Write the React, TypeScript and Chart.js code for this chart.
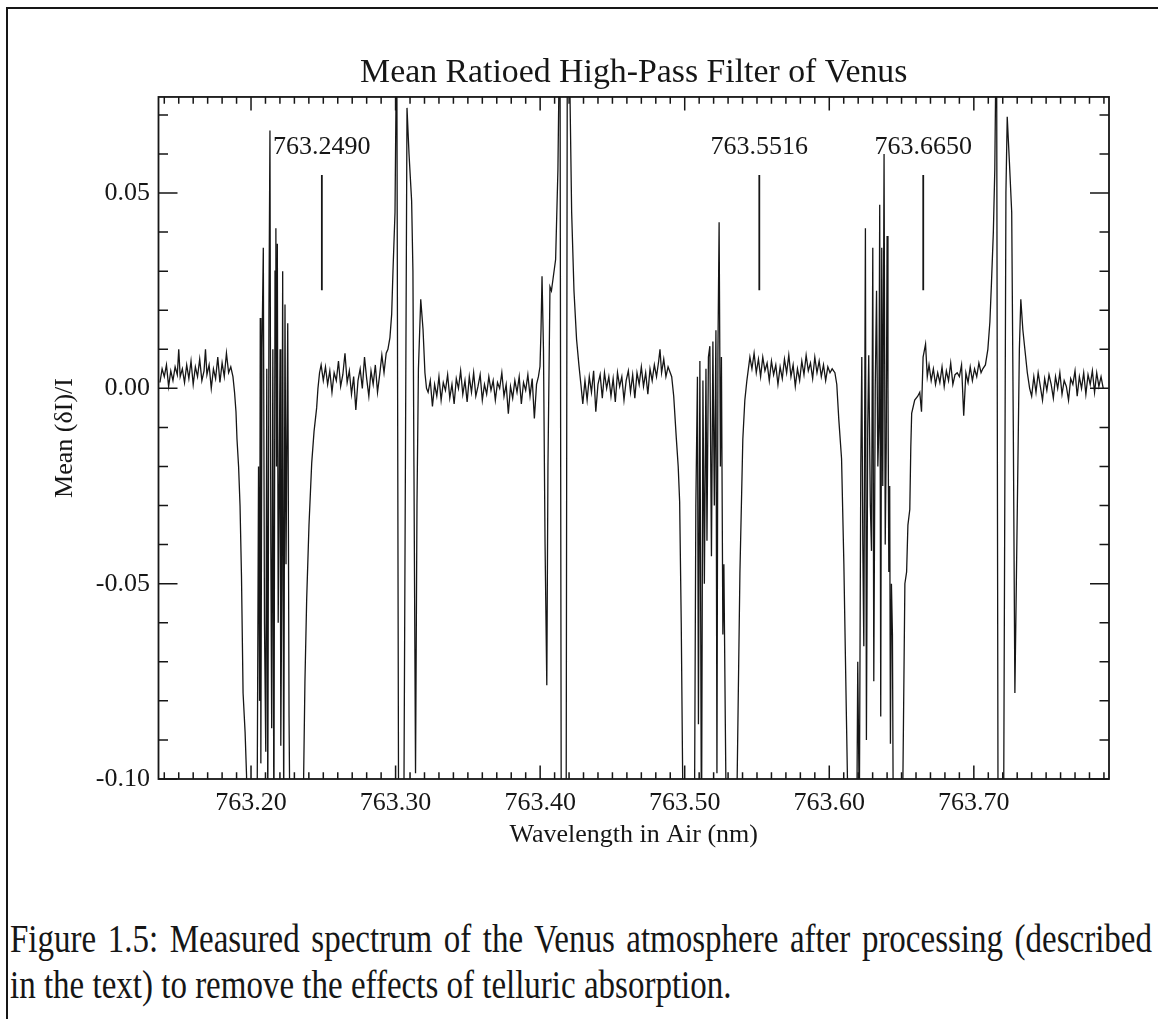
import React, { useEffect, useRef } from 'react';
import { Chart, registerables } from 'chart.js';

Chart.register(...registerables);

const INK = '#161616';
const SERIF = '"Liberation Serif", "Times New Roman", serif';

// axis ranges
const X_MIN = 763.136;
const X_MAX = 763.7935;
const Y_MIN = -0.1;
const Y_MAX = 0.0746;

// tick labels
const xTickValues = [763.2, 763.3, 763.4, 763.5, 763.6, 763.7];
const yTickValues = [-0.1, -0.05, 0.0, 0.05];

// marked line positions
const lineCenters = [763.249, 763.5516, 763.665];
const lineLabels = ['763.2490', '763.5516', '763.6650'];
const markerSpan = [0.0251, 0.0546];
const labelLevel = 0.0618;

// spectrum: [wavelength (nm), mean dI/I]
const continuumA: [number, number][] = [
  [763.1370, 0.0015], [763.1385, 0.0050], [763.1400, 0.0030], [763.1415, 0.0060], [763.1430, 0.0005],
  [763.1445, 0.0045], [763.1460, 0.0020], [763.1475, 0.0055], [763.1490, 0.0035], [763.1500, 0.0100],
  [763.1510, 0.0030], [763.1525, 0.0050], [763.1540, 0.0015], [763.1555, 0.0060], [763.1570, 0.0025],
  [763.1585, 0.0070], [763.1600, 0.0010], [763.1615, 0.0055], [763.1630, 0.0030], [763.1645, 0.0075],
  [763.1660, 0.0020], [763.1675, 0.0045], [763.1685, 0.0100], [763.1695, 0.0035], [763.1710, 0.0060],
  [763.1725, 0.0000], [763.1740, 0.0050], [763.1755, 0.0025], [763.1770, 0.0080], [763.1785, 0.0015],
  [763.1800, 0.0065], [763.1815, 0.0030], [763.1830, 0.0090], [763.1845, 0.0040], [763.1860, 0.0055],
  [763.1875, 0.0030],
];

const band1: [number, number][] = [
  [763.1886, -0.0010], [763.1896, -0.0060], [763.1903, -0.0130], [763.1914, -0.0200], [763.1924, -0.0300],
  [763.1934, -0.0480], [763.1945, -0.0780], [763.1959, -0.0880], [763.1969, -0.0990], [763.1979, -0.1300],
  [763.2014, -0.1400], [763.2041, -0.1200], [763.2052, -0.0200], [763.2059, -0.0800], [763.2064, 0.0180],
  [763.2068, -0.0960], [763.2076, 0.0100], [763.2085, 0.0360], [763.2093, -0.0600], [763.2102, -0.0930],
  [763.2109, 0.0050], [763.2116, -0.1100], [763.2124, 0.0200], [763.2131, 0.0660], [763.2137, -0.0400],
  [763.2143, -0.0870], [763.2151, 0.0100], [763.2158, -0.1200], [763.2166, 0.0300], [763.2172, 0.0410],
  [763.2176, -0.0200], [763.2182, 0.0370], [763.2188, -0.0600], [763.2194, -0.0300], [763.2201, 0.0100],
  [763.2206, -0.0915], [763.2213, -0.0500], [763.2219, 0.0300], [763.2226, -0.1100], [763.2235, 0.0215],
  [763.2242, -0.0450], [763.2254, 0.0167], [763.2263, -0.0840], [763.2273, -0.1300], [763.2311, -0.1500],
  [763.2360, -0.1100], [763.2373, -0.0750], [763.2385, -0.0540], [763.2401, -0.0350], [763.2420, -0.0190],
  [763.2436, -0.0110], [763.2454, -0.0050], [763.2463, 0.0000], [763.2474, 0.0040],
];

const continuumB: [number, number][] = [
  [763.2485, 0.0060], [763.2500, 0.0020], [763.2515, 0.0055], [763.2530, 0.0010], [763.2545, 0.0045],
  [763.2560, -0.0010], [763.2575, 0.0040], [763.2590, 0.0020], [763.2605, 0.0070], [763.2620, 0.0005],
  [763.2635, 0.0035], [763.2650, 0.0090], [763.2665, 0.0015], [763.2680, 0.0045], [763.2695, -0.0015],
  [763.2710, 0.0030], [763.2725, -0.0055], [763.2740, 0.0020], [763.2755, 0.0050], [763.2770, 0.0000],
  [763.2785, 0.0080], [763.2800, 0.0025], [763.2815, -0.0020], [763.2830, 0.0045], [763.2845, 0.0010],
  [763.2860, 0.0060], [763.2875, -0.0010], [763.2890, 0.0035], [763.2905, 0.0085], [763.2920, 0.0040],
  [763.2935, 0.0090],
];

const feature1: [number, number][] = [
  [763.2947, 0.0100], [763.2961, 0.0130], [763.2973, 0.0190], [763.2982, 0.0300], [763.2996, 0.0450],
  [763.3008, 0.0950], [763.3024, -0.1600], [763.3051, -0.1600], [763.3079, 0.0718], [763.3093, 0.0600],
  [763.3111, 0.0480], [763.3120, 0.0300], [763.3127, -0.0200], [763.3138, -0.0985], [763.3148, -0.0300],
  [763.3158, 0.0050], [763.3174, 0.0228], [763.3190, 0.0150], [763.3203, 0.0040], [763.3214, 0.0000],
];

const continuumC: [number, number][] = [
  [763.3225, -0.0010], [763.3240, 0.0020], [763.3255, -0.0046], [763.3270, 0.0010], [763.3285, -0.0020],
  [763.3300, 0.0030], [763.3315, -0.0030], [763.3330, 0.0015], [763.3345, -0.0005], [763.3360, 0.0035],
  [763.3375, -0.0025], [763.3390, 0.0010], [763.3405, -0.0040], [763.3420, 0.0025], [763.3435, 0.0000],
  [763.3450, 0.0045], [763.3465, -0.0015], [763.3480, 0.0020], [763.3495, -0.0035], [763.3510, 0.0030],
  [763.3525, -0.0010], [763.3540, 0.0040], [763.3555, -0.0020], [763.3570, 0.0005], [763.3585, 0.0035],
  [763.3600, -0.0030], [763.3615, 0.0010], [763.3630, -0.0015], [763.3645, 0.0030], [763.3660, -0.0005],
  [763.3675, 0.0020], [763.3690, -0.0030], [763.3705, 0.0015], [763.3720, 0.0000], [763.3735, 0.0040],
  [763.3750, -0.0020], [763.3765, 0.0010], [763.3780, -0.0065], [763.3795, 0.0005], [763.3810, -0.0025],
  [763.3825, 0.0020], [763.3840, -0.0010], [763.3855, 0.0030], [763.3870, -0.0040], [763.3885, 0.0015],
  [763.3900, -0.0005], [763.3915, 0.0035], [763.3930, -0.0020], [763.3945, 0.0025], [763.3960, -0.0077],
  [763.3975, 0.0010],
];

const feature2: [number, number][] = [
  [763.3988, 0.0030], [763.3999, 0.0056], [763.4006, 0.0150], [763.4013, 0.0287], [763.4023, 0.0100],
  [763.4034, -0.0400], [763.4046, -0.0760], [763.4054, -0.0200], [763.4068, 0.0260], [763.4078, 0.0250],
  [763.4089, 0.0280], [763.4107, 0.0330], [763.4123, 0.0560], [763.4137, 0.1000], [763.4148, -0.1600],
  [763.4178, -0.1600], [763.4189, 0.1200], [763.4218, 0.0450], [763.4234, 0.0250], [763.4252, 0.0125],
  [763.4268, 0.0060], [763.4282, 0.0010],
];

const continuumD: [number, number][] = [
  [763.4295, -0.0040], [763.4310, 0.0020], [763.4325, -0.0030], [763.4340, 0.0030], [763.4355, -0.0010],
  [763.4370, 0.0045], [763.4385, -0.0060], [763.4400, 0.0010], [763.4415, 0.0035], [763.4430, -0.0025],
  [763.4445, 0.0040], [763.4460, 0.0000], [763.4475, 0.0030], [763.4490, -0.0020], [763.4505, 0.0025],
  [763.4520, -0.0035], [763.4535, 0.0040], [763.4550, 0.0005], [763.4565, 0.0030], [763.4580, -0.0030],
  [763.4595, 0.0020], [763.4610, 0.0045], [763.4625, -0.0010], [763.4640, 0.0035], [763.4655, -0.0025],
  [763.4670, 0.0040], [763.4685, 0.0010], [763.4700, 0.0055], [763.4715, 0.0005], [763.4730, 0.0040],
  [763.4745, -0.0015], [763.4760, 0.0050], [763.4775, 0.0020], [763.4790, 0.0060], [763.4805, 0.0030],
  [763.4820, 0.0070], [763.4829, 0.0100], [763.4840, 0.0040], [763.4855, 0.0075], [763.4870, 0.0030],
  [763.4885, 0.0055], [763.4900, 0.0040],
];

const band2: [number, number][] = [
  [763.4910, 0.0030], [763.4924, -0.0020], [763.4942, -0.0128], [763.4955, -0.0200], [763.4965, -0.0290],
  [763.4976, -0.0600], [763.4986, -0.1000], [763.5000, -0.1400], [763.5064, -0.1400], [763.5077, -0.0300],
  [763.5088, 0.0030], [763.5095, -0.0860], [763.5105, 0.0070], [763.5116, -0.1200], [763.5126, 0.0020],
  [763.5136, -0.0500], [763.5147, 0.0050], [763.5154, -0.0390], [763.5164, 0.0080], [763.5174, 0.0108],
  [763.5185, -0.0430], [763.5195, 0.0120], [763.5205, -0.0300], [763.5216, 0.0149], [763.5223, -0.0985],
  [763.5230, 0.0100], [763.5238, 0.0425], [763.5247, -0.0200], [763.5254, 0.0080], [763.5264, -0.0630],
  [763.5271, -0.0450], [763.5281, -0.0860], [763.5295, -0.1400], [763.5347, -0.1500], [763.5361, -0.1050],
  [763.5382, -0.0470], [763.5402, -0.0130], [763.5416, -0.0030], [763.5430, 0.0020], [763.5451, 0.0080],
];

const continuumE: [number, number][] = [
  [763.5465, 0.0050], [763.5480, 0.0090], [763.5495, 0.0040], [763.5510, 0.0075], [763.5525, 0.0030],
  [763.5540, 0.0080], [763.5555, 0.0045], [763.5570, 0.0065], [763.5585, 0.0020], [763.5600, 0.0070],
  [763.5615, 0.0035], [763.5630, 0.0060], [763.5645, 0.0010], [763.5660, 0.0055], [763.5675, 0.0025],
  [763.5690, 0.0075], [763.5705, 0.0040], [763.5720, 0.0085], [763.5735, 0.0030], [763.5750, 0.0060],
  [763.5765, 0.0005], [763.5780, 0.0050], [763.5795, 0.0020], [763.5810, 0.0070], [763.5825, 0.0035],
  [763.5840, 0.0085], [763.5855, 0.0045], [763.5870, 0.0065], [763.5885, 0.0025], [763.5900, 0.0080],
  [763.5915, 0.0040], [763.5930, 0.0070], [763.5945, 0.0030], [763.5960, 0.0060], [763.5975, 0.0020],
  [763.5990, 0.0055], [763.6005, 0.0040], [763.6020, 0.0050],
];

const band3: [number, number][] = [
  [763.6039, 0.0040], [763.6052, 0.0010], [763.6066, -0.0080], [763.6085, -0.0180], [763.6101, -0.0450],
  [763.6119, -0.0850], [763.6135, -0.1200], [763.6184, -0.1500], [763.6197, -0.0700], [763.6208, -0.1100],
  [763.6218, -0.0200], [763.6225, 0.0080], [763.6232, -0.0400], [763.6239, -0.0660], [763.6250, 0.0410],
  [763.6257, -0.0900], [763.6266, -0.0100], [763.6273, 0.0085], [763.6284, -0.0300], [763.6292, -0.0416],
  [763.6301, 0.0360], [763.6308, -0.0750], [763.6318, 0.0000], [763.6327, 0.0250], [763.6336, -0.0200],
  [763.6343, -0.0100], [763.6349, 0.0470], [763.6356, -0.0840], [763.6363, 0.0360], [763.6370, -0.0250],
  [763.6379, 0.0600], [763.6387, -0.0400], [763.6394, -0.0150], [763.6400, 0.0390], [763.6406, 0.0000],
  [763.6412, -0.0470], [763.6418, -0.0250], [763.6423, -0.0910], [763.6430, -0.0500], [763.6437, -0.0630],
  [763.6446, -0.1400], [763.6488, -0.1500], [763.6508, -0.1050], [763.6523, -0.0500], [763.6535, -0.0470],
  [763.6544, -0.0350], [763.6557, -0.0310], [763.6564, -0.0150], [763.6570, -0.0064], [763.6591, -0.0030],
  [763.6612, -0.0020], [763.6626, -0.0010], [763.6638, -0.0060], [763.6649, 0.0080], [763.6666, 0.0113],
  [763.6678, 0.0030],
];

const continuumF: [number, number][] = [
  [763.6690, 0.0060], [763.6705, 0.0020], [763.6720, 0.0050], [763.6735, 0.0010], [763.6750, 0.0040],
  [763.6765, 0.0015], [763.6780, 0.0055], [763.6795, 0.0005], [763.6810, 0.0045], [763.6825, 0.0020],
  [763.6840, 0.0065], [763.6855, 0.0010], [763.6870, 0.0035], [763.6885, 0.0040], [763.6900, 0.0030],
  [763.6915, 0.0060], [763.6930, -0.0070], [763.6945, 0.0040], [763.6960, 0.0015], [763.6975, 0.0055],
  [763.6990, 0.0020], [763.7005, 0.0050], [763.7020, 0.0030], [763.7035, 0.0065], [763.7050, 0.0040],
];

const feature3: [number, number][] = [
  [763.7062, 0.0050], [763.7080, 0.0060], [763.7097, 0.0100], [763.7111, 0.0170], [763.7122, 0.0270],
  [763.7135, 0.0400], [763.7145, 0.0560], [763.7157, 0.1000], [763.7170, -0.1600], [763.7201, -0.1600],
  [763.7222, 0.0500], [763.7231, 0.0695], [763.7246, 0.0580], [763.7262, 0.0450], [763.7273, -0.0100],
  [763.7284, -0.0780], [763.7294, -0.0500], [763.7307, -0.0130], [763.7315, 0.0100], [763.7325, 0.0228],
  [763.7339, 0.0150], [763.7353, 0.0100], [763.7370, 0.0040], [763.7386, 0.0000],
];

const continuumG: [number, number][] = [
  [763.7400, -0.0020], [763.7415, 0.0030], [763.7430, -0.0010], [763.7445, 0.0040], [763.7460, 0.0005],
  [763.7475, -0.0030], [763.7490, 0.0025], [763.7505, -0.0005], [763.7520, 0.0035], [763.7535, 0.0010],
  [763.7550, -0.0025], [763.7565, 0.0030], [763.7580, 0.0000], [763.7595, 0.0040], [763.7610, -0.0015],
  [763.7625, 0.0020], [763.7640, 0.0005], [763.7655, -0.0030], [763.7670, 0.0025], [763.7685, 0.0010],
  [763.7700, 0.0045], [763.7715, -0.0020], [763.7730, 0.0030], [763.7745, 0.0000], [763.7760, 0.0040],
  [763.7775, -0.0015], [763.7790, 0.0035], [763.7805, 0.0010], [763.7820, 0.0045], [763.7835, -0.0010],
  [763.7850, 0.0040], [763.7865, 0.0005], [763.7880, 0.0030], [763.7895, 0.0000],
];

const spectrum: [number, number][] = [
  ...continuumA, ...band1, ...continuumB, ...feature1, ...continuumC, ...feature2,
  ...continuumD, ...band2, ...continuumE, ...band3, ...continuumF, ...feature3, ...continuumG,
];

const frameTicks = {
  id: 'frameTicks',
  afterDatasetsDraw(chart: any) {
    const { ctx, chartArea: a, scales } = chart;
    const xs = scales.x;
    const ys = scales.y;
    ctx.save();
    ctx.strokeStyle = INK;
    ctx.lineWidth = 1.5;
    ctx.beginPath();
    const kx0 = Math.ceil(X_MIN * 100 - 1e-6);
    const kx1 = Math.floor(X_MAX * 100 + 1e-6);
    for (let k = kx0; k <= kx1; k++) {
      const px = xs.getPixelForValue(k / 100);
      const len = k % 10 === 0 ? 13.6 : 6.8;
      ctx.moveTo(px, a.bottom);
      ctx.lineTo(px, a.bottom - len);
      ctx.moveTo(px, a.top);
      ctx.lineTo(px, a.top + len);
    }
    const ky0 = Math.ceil(Y_MIN * 100 - 1e-6);
    const ky1 = Math.floor(Y_MAX * 100 + 1e-6);
    for (let k = ky0; k <= ky1; k++) {
      const py = ys.getPixelForValue(k / 100);
      const len = k % 5 === 0 ? 19 : 9.5;
      ctx.moveTo(a.left, py);
      ctx.lineTo(a.left + len, py);
      ctx.moveTo(a.right, py);
      ctx.lineTo(a.right - len, py);
    }
    ctx.stroke();
    ctx.lineWidth = 1.8;
    ctx.strokeRect(a.left, a.top, a.right - a.left, a.bottom - a.top);
    ctx.fillStyle = INK;
    ctx.font = '26px ' + SERIF;
    ctx.textAlign = 'center';
    ctx.textBaseline = 'middle';
    lineCenters.forEach((c, i) => {
      ctx.fillText(lineLabels[i], xs.getPixelForValue(c), ys.getPixelForValue(labelLevel));
    });
    ctx.restore();
  },
};

export default function App() {
  const ref = useRef<HTMLCanvasElement | null>(null);

  useEffect(() => {
    if (!ref.current) return;
    const markerSets = lineCenters.map((c) => ({
      data: [
        { x: c, y: markerSpan[0] },
        { x: c, y: markerSpan[1] },
      ],
      borderColor: INK,
      borderWidth: 1.8,
      pointRadius: 0,
    }));
    const chart = new Chart(ref.current, {
      type: 'line',
      data: {
        datasets: [
          {
            data: spectrum.map(([x, y]) => ({ x, y })),
            borderColor: INK,
            borderWidth: 1.3,
            pointRadius: 0,
            tension: 0,
          },
          ...markerSets,
        ],
      },
      options: {
        animation: false,
        responsive: false,
        devicePixelRatio: 1,
        layout: { padding: { left: 0, right: 49, top: 0, bottom: 0 } },
        plugins: {
          legend: { display: false },
          tooltip: { enabled: false },
          title: {
            display: true,
            fullSize: false,
            text: 'Mean Ratioed High-Pass Filter of Venus',
            color: INK,
            font: { family: SERIF, size: 33.8, weight: 'normal' },
            padding: { top: 53.2, bottom: 3.2 },
          },
        },
        scales: {
          x: {
            type: 'linear',
            position: 'bottom',
            min: X_MIN,
            max: X_MAX,
            grid: { display: false, drawTicks: false },
            border: { display: false },
            afterBuildTicks: (s: any) => {
              s.ticks = xTickValues.map((v) => ({ value: v }));
            },
            afterFit: (s: any) => {
              s.height = 80;
            },
            ticks: {
              autoSkip: false,
              maxRotation: 0,
              padding: 8.4,
              color: INK,
              font: { family: SERIF, size: 26 },
              callback: (v: any) => Number(v).toFixed(2),
            },
            title: {
              display: true,
              text: 'Wavelength in Air (nm)',
              color: INK,
              font: { family: SERIF, size: 26 },
              padding: { top: 0, bottom: 8.4 },
            },
          },
          y: {
            type: 'linear',
            position: 'left',
            min: Y_MIN,
            max: Y_MAX,
            grid: { display: false, drawTicks: false },
            border: { display: false },
            afterBuildTicks: (s: any) => {
              s.ticks = yTickValues.map((v) => ({ value: v }));
            },
            afterFit: (s: any) => {
              s.width = 158.5;
            },
            ticks: {
              autoSkip: false,
              padding: 8.5,
              color: INK,
              font: { family: SERIF, size: 26 },
              callback: (v: any) => Number(v).toFixed(2),
            },
            title: {
              display: true,
              text: 'Mean (δI)/I',
              color: INK,
              font: { family: SERIF, size: 26 },
              padding: { top: 49.4, bottom: 0 },
            },
          },
        },
      },
      plugins: [frameTicks],
    });
    return () => chart.destroy();
  }, []);

  const captionStyle: React.CSSProperties = {
    position: 'absolute',
    left: 10,
    fontFamily: SERIF,
    fontSize: 33,
    lineHeight: '40px',
    color: INK,
    whiteSpace: 'nowrap',
    transform: 'scaleY(1.2)',
    transformOrigin: '0 31px',
  };

  return (
    <div
      style={{
        position: 'fixed',
        left: 0,
        top: 0,
        width: 1158,
        height: 1019,
        background: '#fff',
        overflow: 'hidden',
      }}
    >
      <div
        style={{
          position: 'absolute',
          left: 6,
          top: 7,
          width: 1160,
          height: 1020,
          borderLeft: '2px solid ' + INK,
          borderTop: '2px solid ' + INK,
        }}
      />
      <canvas
        ref={ref}
        width={1158}
        height={859}
        style={{ position: 'absolute', left: 0, top: 0 }}
      />
      <div style={{ ...captionStyle, top: 921, width: 1142, textAlign: 'justify', textAlignLast: 'justify' }}>
        Figure 1.5: Measured spectrum of the Venus atmosphere after processing (described
      </div>
      <div style={{ ...captionStyle, top: 967 }}>
        in the text) to remove the effects of telluric absorption.
      </div>
    </div>
  );
}
